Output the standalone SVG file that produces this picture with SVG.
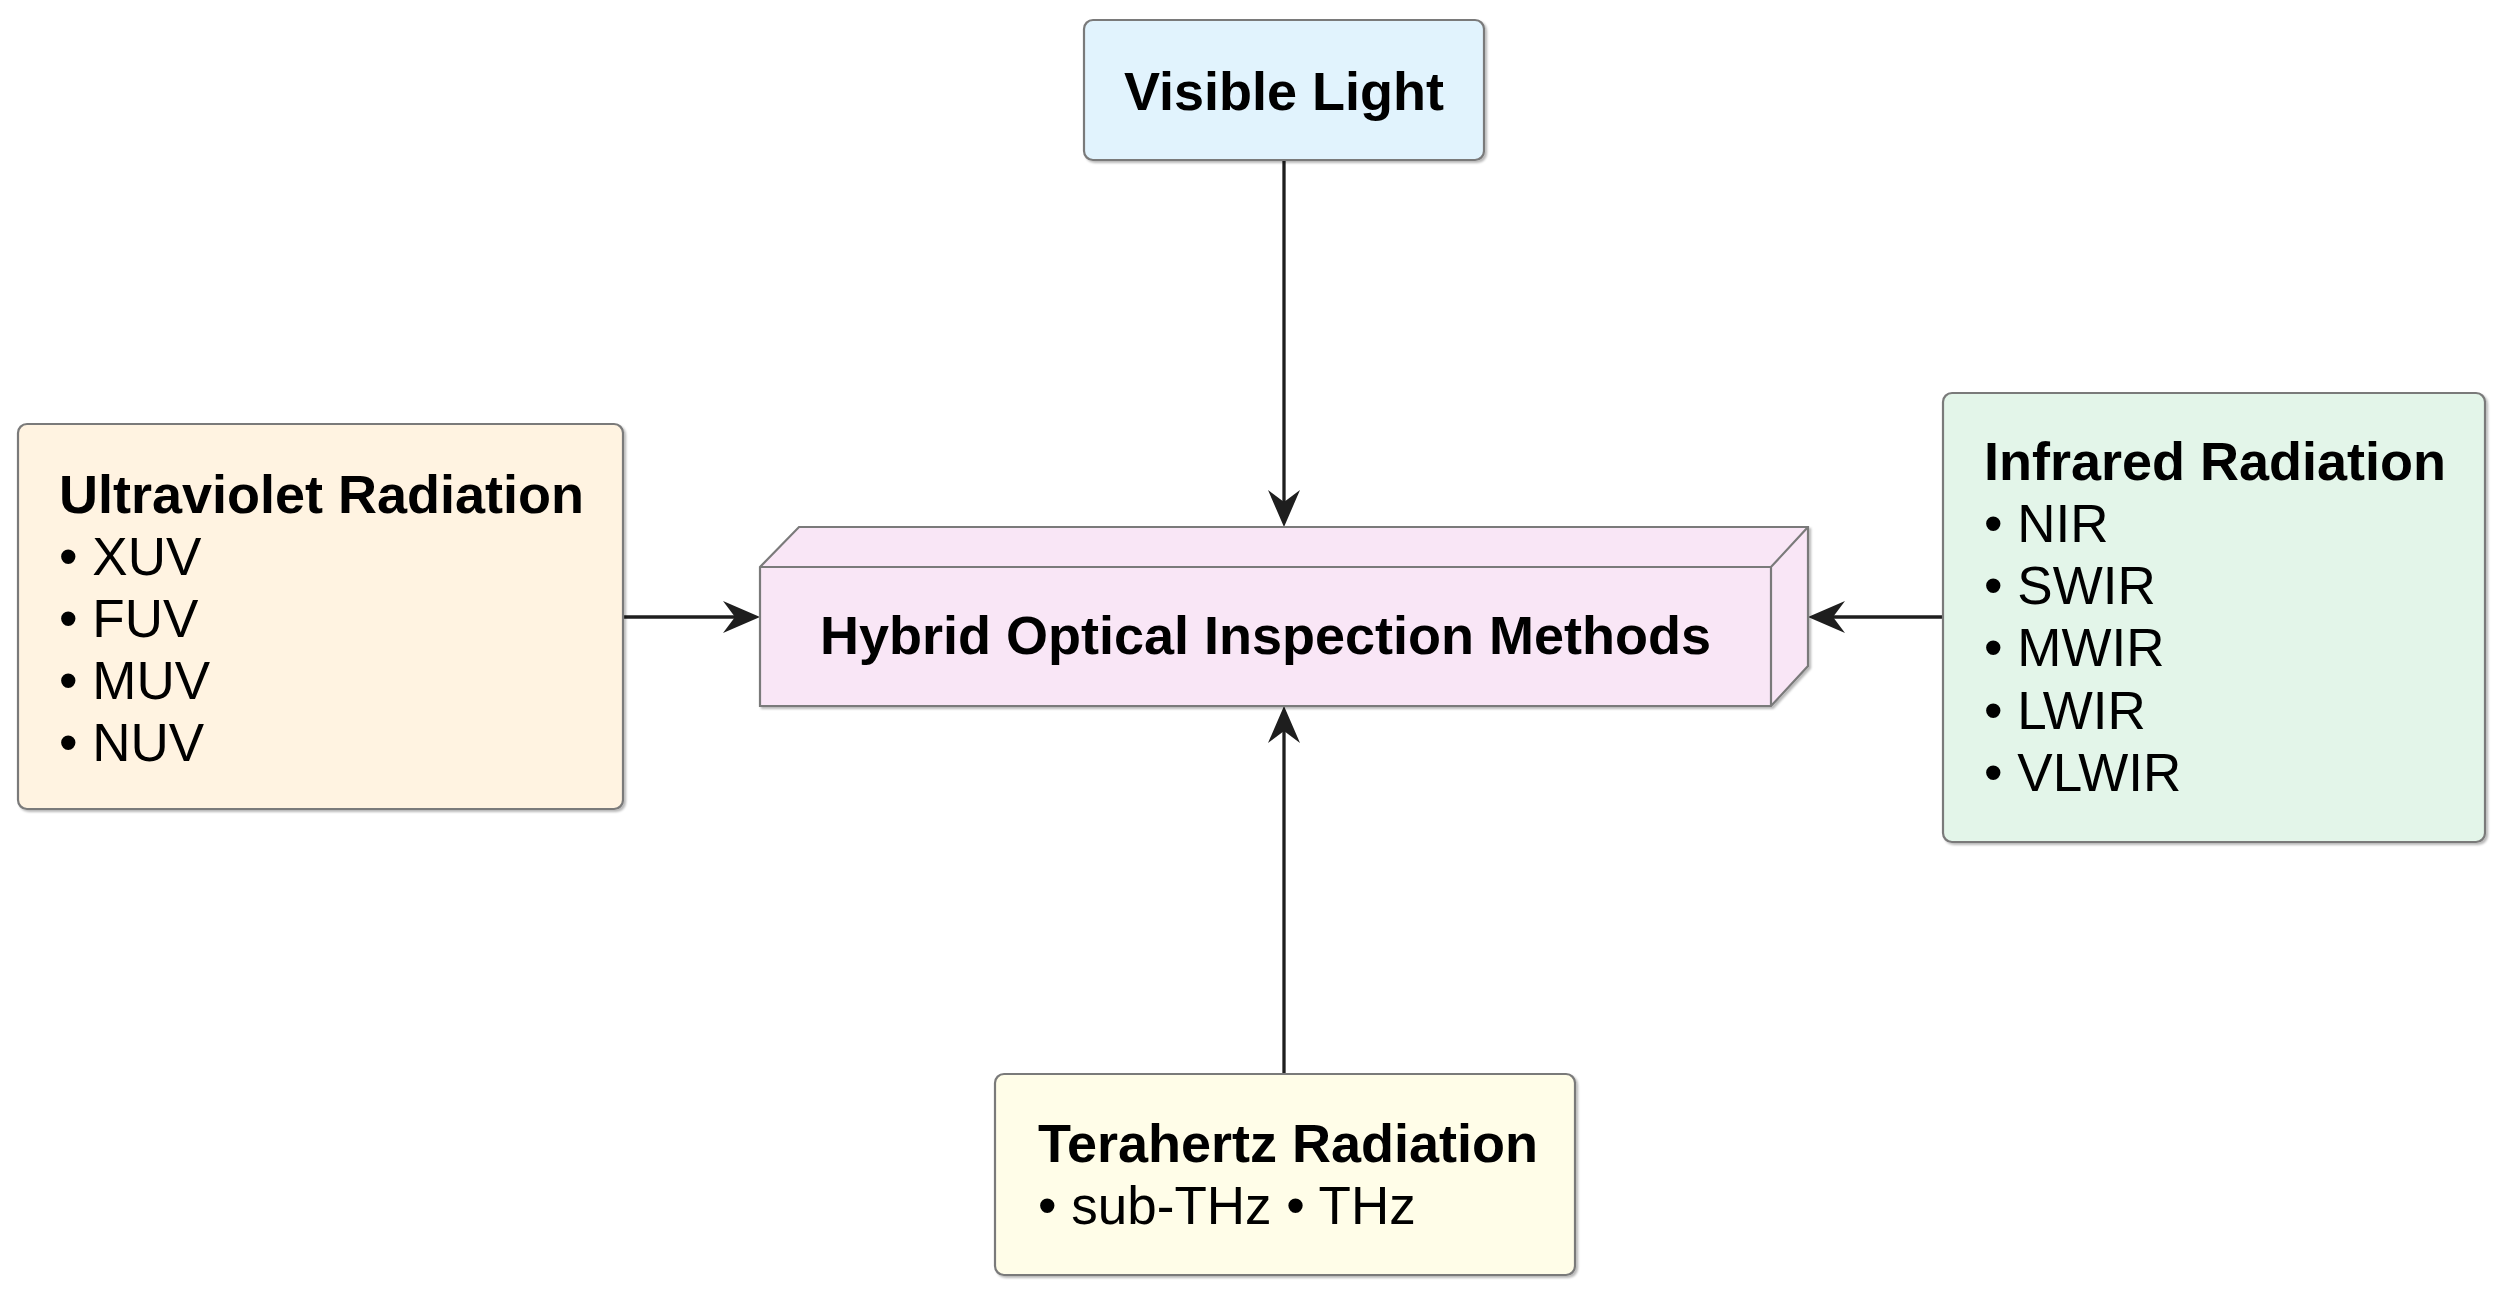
<svg xmlns="http://www.w3.org/2000/svg" width="2514" height="1301" viewBox="0 0 2514 1301">
  <style>
    .box { stroke: #7a7a7a; stroke-width: 2.2; }
    .shadow { filter: url(#sh); }
    .title { font-family: "Liberation Sans", Arial, sans-serif; font-weight: bold; font-size: 54px; fill: #000; }
    .item { font-family: "Liberation Sans", Arial, sans-serif; font-size: 53px; fill: #000; }
    .conn { stroke: #1e1e1e; stroke-width: 3.3; fill: none; marker-end: url(#arr); }
  </style>
  <defs>
    <filter id="sh" x="-5%" y="-5%" width="110%" height="115%">
      <feDropShadow dx="2" dy="2" stdDeviation="1.2" flood-color="#000" flood-opacity="0.28"/>
    </filter>
    <marker id="arr" markerUnits="userSpaceOnUse" viewBox="0 0 40 34" markerWidth="40" markerHeight="34" refX="28" refY="17" orient="auto">
      <path d="M38,17 L1,1 L13,17 L1,33 Z" fill="#1e1e1e"/>
    </marker>
  </defs>
  <rect width="2514" height="1301" fill="#ffffff"/>

  <g id="connectors">
    <line class="conn" x1="1284" y1="160" x2="1284" y2="517"/>
    <line class="conn" x1="623" y1="617" x2="750" y2="617"/>
    <line class="conn" x1="1943" y1="617" x2="1818" y2="617"/>
    <line class="conn" x1="1284" y1="1074" x2="1284" y2="716"/>
  </g>

  <g id="visible-light" class="shadow">
    <rect class="box" x="1084" y="20" width="400" height="140" rx="9" fill="#E1F3FD"/>
    <text class="title" x="1284" y="110" text-anchor="middle">Visible Light</text>
  </g>

  <g id="ultraviolet" class="shadow">
    <rect class="box" x="18" y="424" width="605" height="385" rx="9" fill="#FFF3E1"/>
    <text class="title" x="59" y="513">Ultraviolet Radiation</text>
    <text class="item" x="59" y="575">• XUV</text>
    <text class="item" x="59" y="637">• FUV</text>
    <text class="item" x="59" y="699">• MUV</text>
    <text class="item" x="59" y="761">• NUV</text>
  </g>

  <g id="hybrid" class="shadow">
    <path class="box" d="M760,567 L799,527 L1808,527 L1808,666 L1771,706 L760,706 Z" fill="#F9E6F6"/>
    <path class="box" d="M760,567 L1771,567 L1808,527 M1771,567 L1771,706" fill="none"/>
    <text class="title" x="1265.5" y="654" text-anchor="middle">Hybrid Optical Inspection Methods</text>
  </g>

  <g id="infrared" class="shadow">
    <rect class="box" x="1943" y="393" width="542" height="449" rx="9" fill="#E3F5E9"/>
    <text class="title" x="1984" y="480">Infrared Radiation</text>
    <text class="item" x="1984" y="542">• NIR</text>
    <text class="item" x="1984" y="604">• SWIR</text>
    <text class="item" x="1984" y="666">• MWIR</text>
    <text class="item" x="1984" y="729">• LWIR</text>
    <text class="item" x="1984" y="791">• VLWIR</text>
  </g>

  <g id="terahertz" class="shadow">
    <rect class="box" x="995" y="1074" width="580" height="201" rx="9" fill="#FFFDE8"/>
    <text class="title" x="1038" y="1162">Terahertz Radiation</text>
    <text class="item" x="1038" y="1224">• sub-THz • THz</text>
  </g>
</svg>
